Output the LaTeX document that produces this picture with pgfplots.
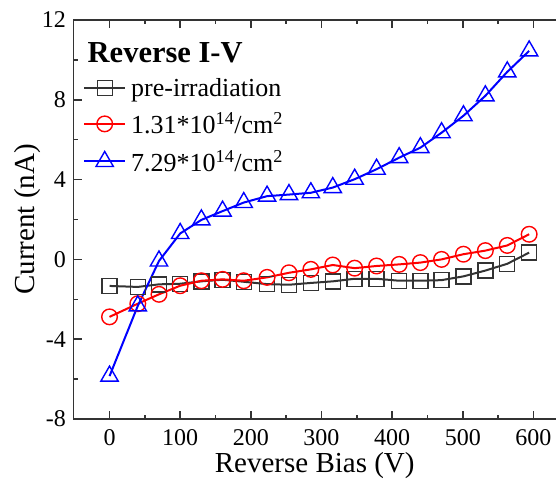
\documentclass[border=0pt]{standalone}
\usepackage{fontspec}
\setmainfont{Liberation Serif}
\usepackage{pgfplots}
\pgfplotsset{compat=1.18}

\begin{document}
\begin{tikzpicture}
  \begin{axis}[
    scale only axis,
    width=482.5pt, height=399pt,
    xmin=-51, xmax=632,
    ymin=-8, ymax=12,
    axis y line*=left,
    xtick={0,100,...,600},
    ytick={-8,-4,0,4,8,12},
    minor x tick num=1,
    minor y tick num=1,
    tick align=inside,
    major tick length=8pt,
    minor tick length=4pt,
    axis line style={line width=1.5pt, black!80},
    every tick/.style={line width=1.5pt, black!80},
    /pgf/number format/assume math mode=true,
    tick label style={font=\fontsize{24}{24}\selectfont},
    xticklabel style={yshift=-7pt},
    yticklabel style={xshift=-4pt},
    xlabel={Reverse Bias (V)},
    ylabel={Current (nA)},
    label style={font=\fontsize{29}{29}\selectfont},
    ylabel style={yshift=-6pt},
    legend style={at={(rel axis cs:0.0197,0.86)}, anchor=north west,
      draw=none, fill=none, inner sep=0pt,
      font=\fontsize{26}{28}\selectfont, row sep=11pt,
      nodes={inner xsep=5pt}},
    legend cell align=left,
    legend image code/.code={%
      \draw[mark repeat=2,mark phase=2] plot coordinates {(0pt,0pt) (20.5pt,0pt) (41pt,0pt)};},
    every axis plot/.append style={line width=2pt, mark options={solid, fill=white, line width=1.4pt}},
  ]

    \addplot[color=black!80, mark=square, mark size=7.5pt] coordinates {
      (0,-1.33) (40,-1.38) (70,-1.25) (100,-1.22) (130,-1.1)
      (160,-1.02) (190,-1.12) (223,-1.24) (254,-1.27) (285,-1.18)
      (316,-1.1) (347,-0.97) (378,-0.97) (410,-1.07) (440,-1.07)
      (470,-1.04) (501,-0.85) (532,-0.56) (563,-0.22) (594,0.34)
    };
    \addlegendentry{pre-irradiation}

    \addplot[color=red, mark=o, mark size=7.8pt] coordinates {
      (0,-2.88) (40,-2.22) (70,-1.75) (100,-1.32) (130,-1.07)
      (160,-1.0) (190,-1.07) (223,-0.9) (254,-0.67) (285,-0.5)
      (316,-0.28) (347,-0.44) (378,-0.33) (410,-0.25) (440,-0.16)
      (470,0.0) (501,0.26) (532,0.44) (563,0.7) (594,1.26)
    };
    \addlegendentry{1.31*10\textsuperscript{14}/cm\textsuperscript{2}}

    \addplot[color=blue, mark=triangle, mark size=10pt] coordinates {
      (0,-5.85) (40,-2.33) (70,-0.08) (100,1.3) (130,1.98)
      (160,2.42) (190,2.85) (223,3.17) (254,3.25) (285,3.34)
      (316,3.6) (347,4.02) (378,4.52) (410,5.1) (440,5.6)
      (470,6.35) (501,7.2) (532,8.2) (563,9.4) (594,10.45)
    };
    \addlegendentry{7.29*10\textsuperscript{14}/cm\textsuperscript{2}}

    \node[anchor=west, inner sep=0pt, font=\fontsize{30.5}{30}\selectfont\bfseries]
      at (rel axis cs:0.029,0.917) {Reverse I-V};
  \end{axis}
  \pgfresetboundingbox
  \path[use as bounding box] ([xshift=-73.5pt,yshift=-63pt]current axis.south west)
    rectangle ([yshift=20pt]current axis.north east);
\end{tikzpicture}
\end{document}
